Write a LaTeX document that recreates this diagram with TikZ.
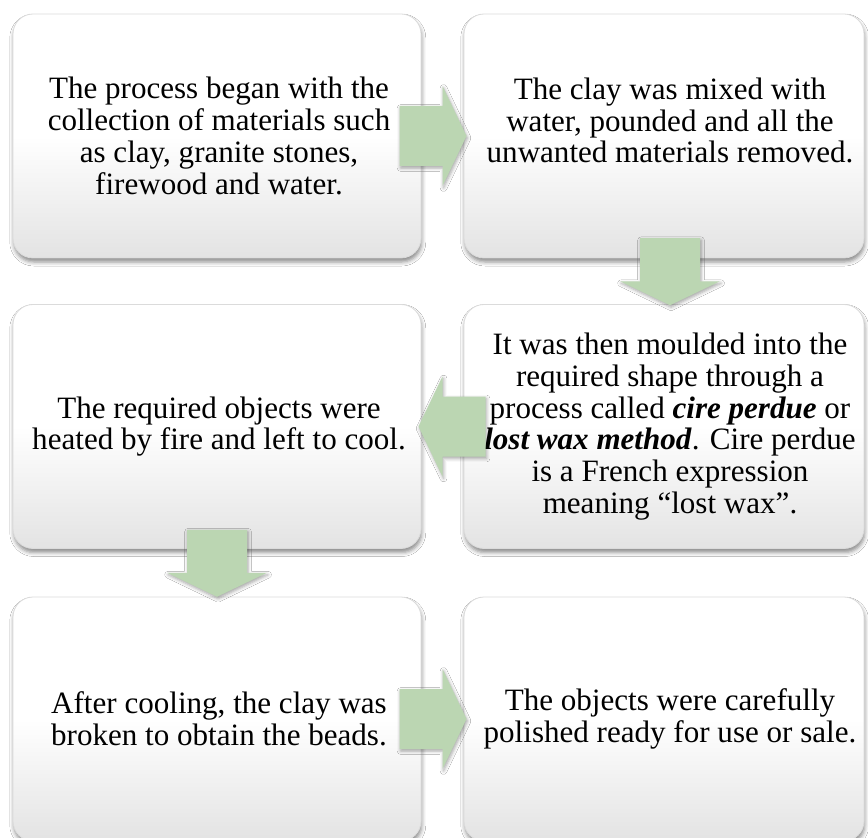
\documentclass[tikz,border=0pt]{standalone}
\usepackage{fontspec}
\setmainfont{Liberation Serif}
\usetikzlibrary{calc,shadows.blur}
\definecolor{arrowgreen}{RGB}{187,214,178}
\begin{document}
\begin{tikzpicture}[x=0.75pt,y=-0.75pt,
  stepbox/.style={draw=black!14, line width=0.6pt, rounded corners=15pt,
    top color=white, bottom color=black!11, middle color=white,
    inner sep=0pt, minimum height=183pt,
    blur shadow={shadow xshift=0.6pt, shadow yshift=-3pt,
      shadow blur radius=3pt, shadow opacity=45}},
  leftbox/.style={stepbox, minimum width=306pt},
  rightbox/.style={stepbox, minimum width=300pt},
  steptext/.style={inner sep=0pt, align=center,
    font=\fontsize{23.3pt}{23.8pt}\selectfont},
  arrowfill/.style={fill=arrowgreen,
    blur shadow={shadow xshift=0.8pt, shadow yshift=-1.5pt,
      shadow blur radius=2.5pt, shadow opacity=35}},
  blockarrow/.pic={
    \path[arrowfill] (-43,-30) -- (0,-30) -- (0,-50) -- (24,0)
      -- (0,50) -- (0,30) -- (-43,30) -- cycle;}
]
% page area
\fill[white] (0,0) rectangle (868,838);
\useasboundingbox (0,0) rectangle (868,838);

% process step boxes
\node[leftbox]  (b1) at (217,136) {};
\node[rightbox] (b2) at (664,136) {};
\node[leftbox]  (b3) at (217,426.5) {};
\node[rightbox] (b4) at (664,426.5) {};
\node[leftbox]  (b5) at (217,719) {};
\node[rightbox] (b6) at (664,719) {};

% step texts
\node[steptext] (t1) at ($(b1.center)+(2,0)$) {The process began with the\\collection of materials such\\as clay, granite stones,\\firewood and water.};
\node[steptext] (t2) at ($(b2.center)+(6,-15.5)$) {The clay was mixed with\\water, pounded and all the\\unwanted materials removed.};
\node[steptext] (t3) at ($(b3.center)+(2,0)$) {The required objects were\\heated by fire and left to cool.};
\node[steptext] (t4) at ($(b4.center)+(6,0)$) {It was then moulded into the\\required shape through a\\process called \textbf{\textit{cire perdue}} or\\\textbf{\textit{lost wax method}}. Cire perdue\\is a French expression\\meaning “lost wax”.};
\node[steptext] (t5) at ($(b5.center)+(2,0)$) {After cooling, the clay was\\broken to obtain the beads.};
\node[steptext] (t6) at ($(b6.center)+(6,0)$) {The objects were carefully\\polished ready for use or sale.};

% block arrows between consecutive steps
\coordinate (a12) at ($(b1.east)!0.5!(b2.west)$);
\coordinate (a24) at ($($(b2.south)!0.5!(b4.north)$)+(6,0)$);
\coordinate (a43) at ($(b4.west)!0.5!(b3.east)$);
\coordinate (a35) at ($(b3.south)!0.5!(b5.north)$);
\coordinate (a56) at ($(b5.east)!0.5!(b6.west)$);
\pic at (a12) {blockarrow};
\pic[rotate=-90] at (a24) {blockarrow};
\pic[rotate=180] at (a43) {blockarrow};
\pic[rotate=-90] at (a35) {blockarrow};
\pic at (a56) {blockarrow};
\end{tikzpicture}
\end{document}
